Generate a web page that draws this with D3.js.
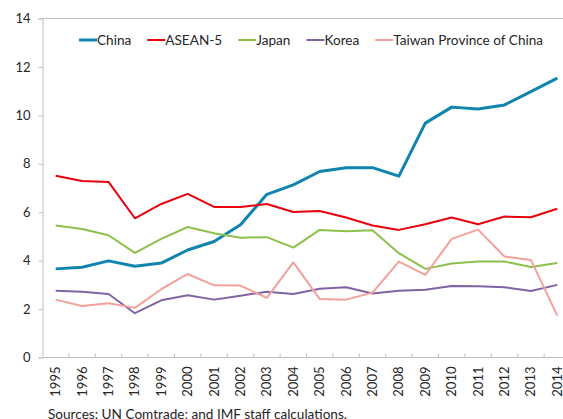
<!DOCTYPE html>
<html>
<head>
<meta charset="utf-8">
<script src="https://cdn.jsdelivr.net/npm/d3@7"></script>
<style>
	body { margin:0; background:#fff; }
	svg { display:block; overflow:hidden; font-family: Lato, "Open Sans", sans-serif; }
	text { fill:#262626; }
</style>
</head>
<body>
<div id="chart"></div>
<script>
const years = d3.range(1995, 2015).map(String);
const yTicks = [0, 2, 4, 6, 8, 10, 12, 14];

const china  = [3.66,3.73,3.99,3.77,3.90,4.44,4.79,5.48,6.74,7.13,7.68,7.84,7.84,7.49,9.68,10.34,10.26,10.43,10.98,11.54];
const asean5 = [7.51,7.29,7.25,5.75,6.34,6.76,6.22,6.22,6.34,6.01,6.05,5.78,5.45,5.27,5.50,5.78,5.50,5.82,5.79,6.14];
const japan  = [5.45,5.31,5.05,4.32,4.90,5.39,5.13,4.95,4.97,4.54,5.27,5.21,5.26,4.31,3.66,3.88,3.96,3.96,3.74,3.90];
const korea  = [2.76,2.72,2.62,1.83,2.36,2.57,2.39,2.55,2.72,2.62,2.84,2.90,2.64,2.76,2.80,2.95,2.94,2.90,2.75,3.00];
const taiwan = [2.39,2.13,2.24,2.05,2.82,3.45,2.98,2.97,2.46,3.93,2.42,2.39,2.68,3.96,3.41,4.90,5.28,4.17,4.03,1.73];

const seriesNames = ['China', 'ASEAN-5', 'Japan', 'Korea', 'Taiwan Province of China'];
const seriesValues = [china, asean5, japan, korea, taiwan];
const colors = ['#0F84AF', '#E8000B', '#8DC04B', '#8063A4', '#F4A09B'];
const widths = [3, 2, 2, 2, 2];

const width = 563, height = 419;
const margin = {t:18.5, l:42.5, b:61.5};
const plotW = 528; // runs past the right edge, as in the original
const h = height - margin.t - margin.b;

const svg = d3.select('#chart').append('svg')
	.attr('width', width)
	.attr('height', height);

const scaleX = d3.scalePoint().domain(years).range([0, plotW]).padding(0.5);
const scaleY = d3.scaleLinear().domain([0, 14]).range([h, 0]);

const plot = svg.append('g')
	.attr('transform', `translate(${margin.l},${margin.t})`);

// top border
plot.append('line')
	.attr('x1', 0).attr('x2', plotW)
	.attr('y1', 0).attr('y2', 0)
	.style('stroke', '#BFBFBF');

// y axis
const axisY = d3.axisLeft(scaleY).tickValues(yTicks).tickSize(4).tickPadding(8);
const axisYNode = plot.append('g').call(axisY);
axisYNode.select('.domain').style('stroke', '#BFBFBF');
axisYNode.selectAll('line').style('stroke', '#BFBFBF');
axisYNode.selectAll('text').style('font-size', '13px').style('fill', '#262626')
	.style('font-family', 'Lato');

// x axis (ticks between categories, pointing inward)
const axisXNode = plot.append('g').attr('transform', `translate(0,${h})`);
axisXNode.append('line')
	.attr('x1', 0).attr('x2', plotW)
	.style('stroke', '#BFBFBF');
axisXNode.selectAll('.tick')
	.data(d3.range(1, years.length))
	.enter().append('line')
	.attr('x1', d => d * plotW / years.length)
	.attr('x2', d => d * plotW / years.length)
	.attr('y1', 0).attr('y2', -4)
	.style('stroke', '#BFBFBF');
axisXNode.selectAll('.label')
	.data(years)
	.enter().append('text')
	.attr('transform', d => `translate(${scaleX(d)},9) rotate(-90)`)
	.attr('dy', '0.35em')
	.attr('text-anchor', 'end')
	.style('font-size', '13px')
	.text(d => d);

// lines
const lineGen = d3.line()
	.x((d, i) => scaleX(years[i]))
	.y(d => scaleY(d));

plot.selectAll('.series')
	.data(seriesValues)
	.enter().append('path')
	.attr('class', 'series')
	.attr('d', lineGen)
	.attr('fill', 'none')
	.attr('stroke', (d, i) => colors[i])
	.attr('stroke-width', (d, i) => widths[i])
	.attr('stroke-linejoin', 'round');

// legend
const legend = svg.append('g').attr('transform', 'translate(79,40)');
let lx = 0;
seriesNames.forEach((name, i) => {
	const g = legend.append('g').attr('transform', `translate(${lx},0)`);
	g.append('line')
		.attr('x1', 0).attr('x2', 18)
		.style('stroke', colors[i])
		.style('stroke-width', widths[i]);
	const t = g.append('text')
		.attr('x', 18)
		.attr('dy', '0.35em')
		.style('font-size', '13.6px')
		.text(name);
	lx += 18 + t.node().getComputedTextLength() + 16;
});

// source note
svg.append('text')
	.attr('x', 48)
	.attr('y', 418.5)
	.style('font-size', '13.6px')
	.text('Sources: UN Comtrade; and IMF staff calculations.');
</script>
</body>
</html>
